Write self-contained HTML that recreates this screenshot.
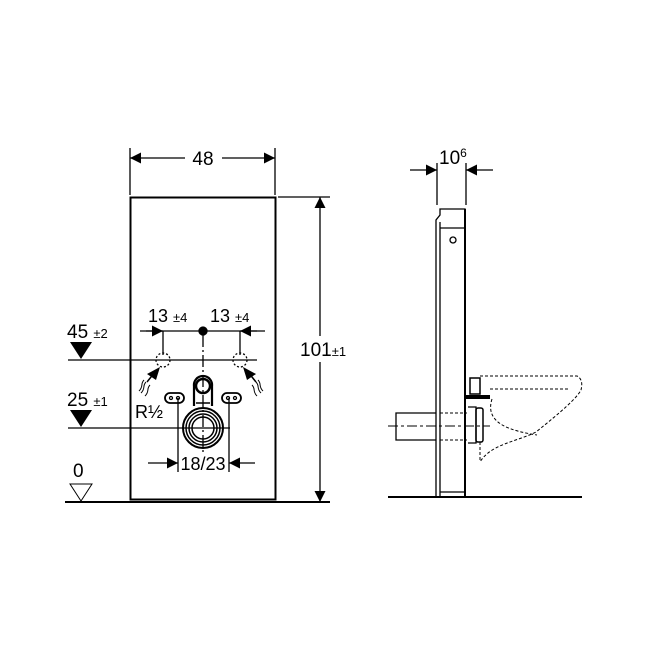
<!DOCTYPE html>
<html><head><style>html,body{margin:0;padding:0;background:#fff}svg{display:block}</style></head><body>
<svg width="650" height="650" viewBox="0 0 650 650" xmlns="http://www.w3.org/2000/svg" font-family="Liberation Sans, sans-serif" fill="none" stroke="#000" stroke-width="1.3">
<defs>
<marker id="a" viewBox="0 0 10 10" refX="10" refY="5" markerWidth="15" markerHeight="11" markerUnits="userSpaceOnUse" orient="auto"><path d="M0,0L10,5L0,10z" fill="#000" stroke="none"/></marker>
</defs>
<!-- front panel -->
<rect x="130.5" y="197.5" width="145" height="302" stroke-width="2"/>
<line x1="65" y1="502" x2="330" y2="502" stroke-width="2"/>
<!-- 48 dim -->
<line x1="130" y1="148" x2="130" y2="195"/>
<line x1="275" y1="148" x2="275" y2="195"/>
<line x1="185" y1="158" x2="130" y2="158" marker-end="url(#a)"/>
<line x1="222" y1="158" x2="275" y2="158" marker-end="url(#a)"/>
<text x="203" y="165" font-size="19" fill="#000" stroke="none" text-anchor="middle">48</text>
<!-- 101 dim -->
<line x1="278" y1="197" x2="330" y2="197"/>
<line x1="320" y1="336" x2="320" y2="197" marker-end="url(#a)"/>
<line x1="320" y1="362" x2="320" y2="502" marker-end="url(#a)"/>
<text x="300" y="356" font-size="19" fill="#000" stroke="none">101<tspan font-size="13">±1</tspan></text>
<!-- 13 ±4 -->
<line x1="140" y1="331" x2="265" y2="331"/>
<line x1="146" y1="331" x2="163" y2="331" marker-end="url(#a)"/>
<line x1="257" y1="331" x2="240" y2="331" marker-end="url(#a)"/>
<circle cx="203" cy="331" r="4" fill="#000"/>
<line x1="163" y1="331" x2="163" y2="355"/><line x1="240" y1="331" x2="240" y2="355"/>
<line x1="203" y1="335" x2="203" y2="470" stroke-dasharray="12,3,2,3"/>
<text x="148" y="322" font-size="18" fill="#000" stroke="none">13 <tspan font-size="13">±4</tspan></text>
<text x="210" y="322" font-size="18" fill="#000" stroke="none">13 <tspan font-size="13">±4</tspan></text>
<!-- 45 -->
<text x="67" y="338" font-size="19" fill="#000" stroke="none">45 <tspan font-size="13">±2</tspan></text>
<path d="M70,342h22l-11,17z" fill="#000" stroke="none"/>
<line x1="68" y1="360" x2="257" y2="360"/>
<circle cx="163" cy="360" r="7" stroke-dasharray="2,2"/>
<circle cx="240" cy="360" r="7" stroke-dasharray="2,2"/>
<!-- wavy arrows -->
<path d="M155,372l-8,10" stroke-width="1.5"/><path d="M160,367l-4,13l-9,-6z" fill="#000" stroke="none"/>
<path d="M146,382c-4,4 0,6 -5,11M150,385c-4,4 0,6 -5,11M144,380c-4,4 0,6 -5,11" stroke-width="1"/>
<path d="M248,372l8,10" stroke-width="1.5"/><path d="M243,367l13,7l-9,6z" fill="#000" stroke="none"/>
<path d="M256,382c4,4 0,6 5,11M252,385c4,4 0,6 5,11M258,380c4,4 0,6 5,11" stroke-width="1"/>
<text x="135" y="418" font-size="18" fill="#000" stroke="none">R½</text>
<!-- ovals -->
<rect x="165" y="393" width="19" height="10" rx="5" stroke-width="1.8"/>
<circle cx="171" cy="398" r="1.5"/><circle cx="178" cy="398" r="1.5"/>
<line x1="178" y1="398" x2="178" y2="472"/>
<rect x="222" y="393" width="19" height="10" rx="5" stroke-width="1.8"/>
<circle cx="228" cy="398" r="1.5"/><circle cx="235" cy="398" r="1.5"/>
<line x1="229" y1="398" x2="229" y2="472"/>
<!-- bracket -->
<path d="M194,406v-20a9,9 0 0 1 9,-10a9,9 0 0 1 9,10v20" stroke-width="2.2"/>
<circle cx="203" cy="386" r="7" stroke-width="2.5"/>
<line x1="196" y1="403" x2="210" y2="403" stroke-width="1.5"/>
<circle cx="203" cy="428" r="20" stroke-width="2"/>
<circle cx="203" cy="428" r="17" stroke-width="1.5"/>
<circle cx="203" cy="428" r="14" stroke-width="1.5"/>
<circle cx="203" cy="428" r="11" stroke-width="1.5"/>
<!-- 25 -->
<text x="67" y="406" font-size="19" fill="#000" stroke="none">25 <tspan font-size="13">±1</tspan></text>
<path d="M70,410h22l-11,17z" fill="#000" stroke="none"/>
<line x1="68" y1="428" x2="230" y2="428"/>
<!-- 18/23 -->
<line x1="148" y1="463" x2="178" y2="463" marker-end="url(#a)"/>
<line x1="255" y1="463" x2="229" y2="463" marker-end="url(#a)"/>
<rect x="180" y="453" width="47" height="18" fill="#fff" stroke="none"/>
<text x="203" y="470" font-size="18" fill="#000" stroke="none" text-anchor="middle">18/23</text>
<!-- 0 datum -->
<text x="73" y="477" font-size="19" fill="#000" stroke="none">0</text>
<path d="M70,484h22l-11,17z" stroke-width="1"/>
<!-- side view -->
<line x1="437" y1="163" x2="437" y2="205"/>
<line x1="466" y1="163" x2="466" y2="205"/>
<line x1="410" y1="170" x2="437" y2="170" marker-end="url(#a)"/>
<line x1="493" y1="170" x2="466" y2="170" marker-end="url(#a)"/>
<text x="439" y="164" font-size="19" fill="#000" stroke="none">10<tspan font-size="12" dy="-7">6</tspan></text>
<path d="M436,497V220l4,-5V209h25v288" stroke-width="1.3"/>
<line x1="440" y1="222" x2="440" y2="497"/>
<line x1="465" y1="209" x2="465" y2="497" stroke-width="2"/>
<line x1="440" y1="228" x2="464" y2="228"/>
<circle cx="453" cy="240" r="3"/>
<line x1="388" y1="497" x2="582" y2="497" stroke-width="2"/>
<line x1="440" y1="492" x2="464" y2="492"/>
<!-- pipe -->
<path d="M436,413h-40v27h40" stroke-width="1.3"/>
<line x1="440" y1="413" x2="467" y2="413" stroke-dasharray="3,2" stroke-width="1"/>
<line x1="440" y1="440" x2="467" y2="440" stroke-dasharray="3,2" stroke-width="1"/>
<line x1="388" y1="426" x2="490" y2="426" stroke-dasharray="10,3,3,3" stroke-width="1"/>
<path d="M468,407h8v36h-8" stroke-width="1.3"/>
<rect x="476" y="408" width="7" height="34" rx="2" stroke-width="1.5"/>
<rect x="465" y="395" width="25" height="4" fill="#000" stroke="none"/>
<rect x="470" y="378" width="10" height="16" stroke-width="1.5"/>
<g stroke-width="1" stroke-dasharray="3,2">
<path d="M480,376h97c6,3 5,10 4,14c-4,8 -20,22 -45,42c-20,10 -45,12 -56,30"/>
<path d="M490,389h80"/>
<path d="M492,399c-8,25 20,32 45,36"/>
<line x1="480" y1="442" x2="480" y2="462"/>
</g>
</svg>
</body></html>
